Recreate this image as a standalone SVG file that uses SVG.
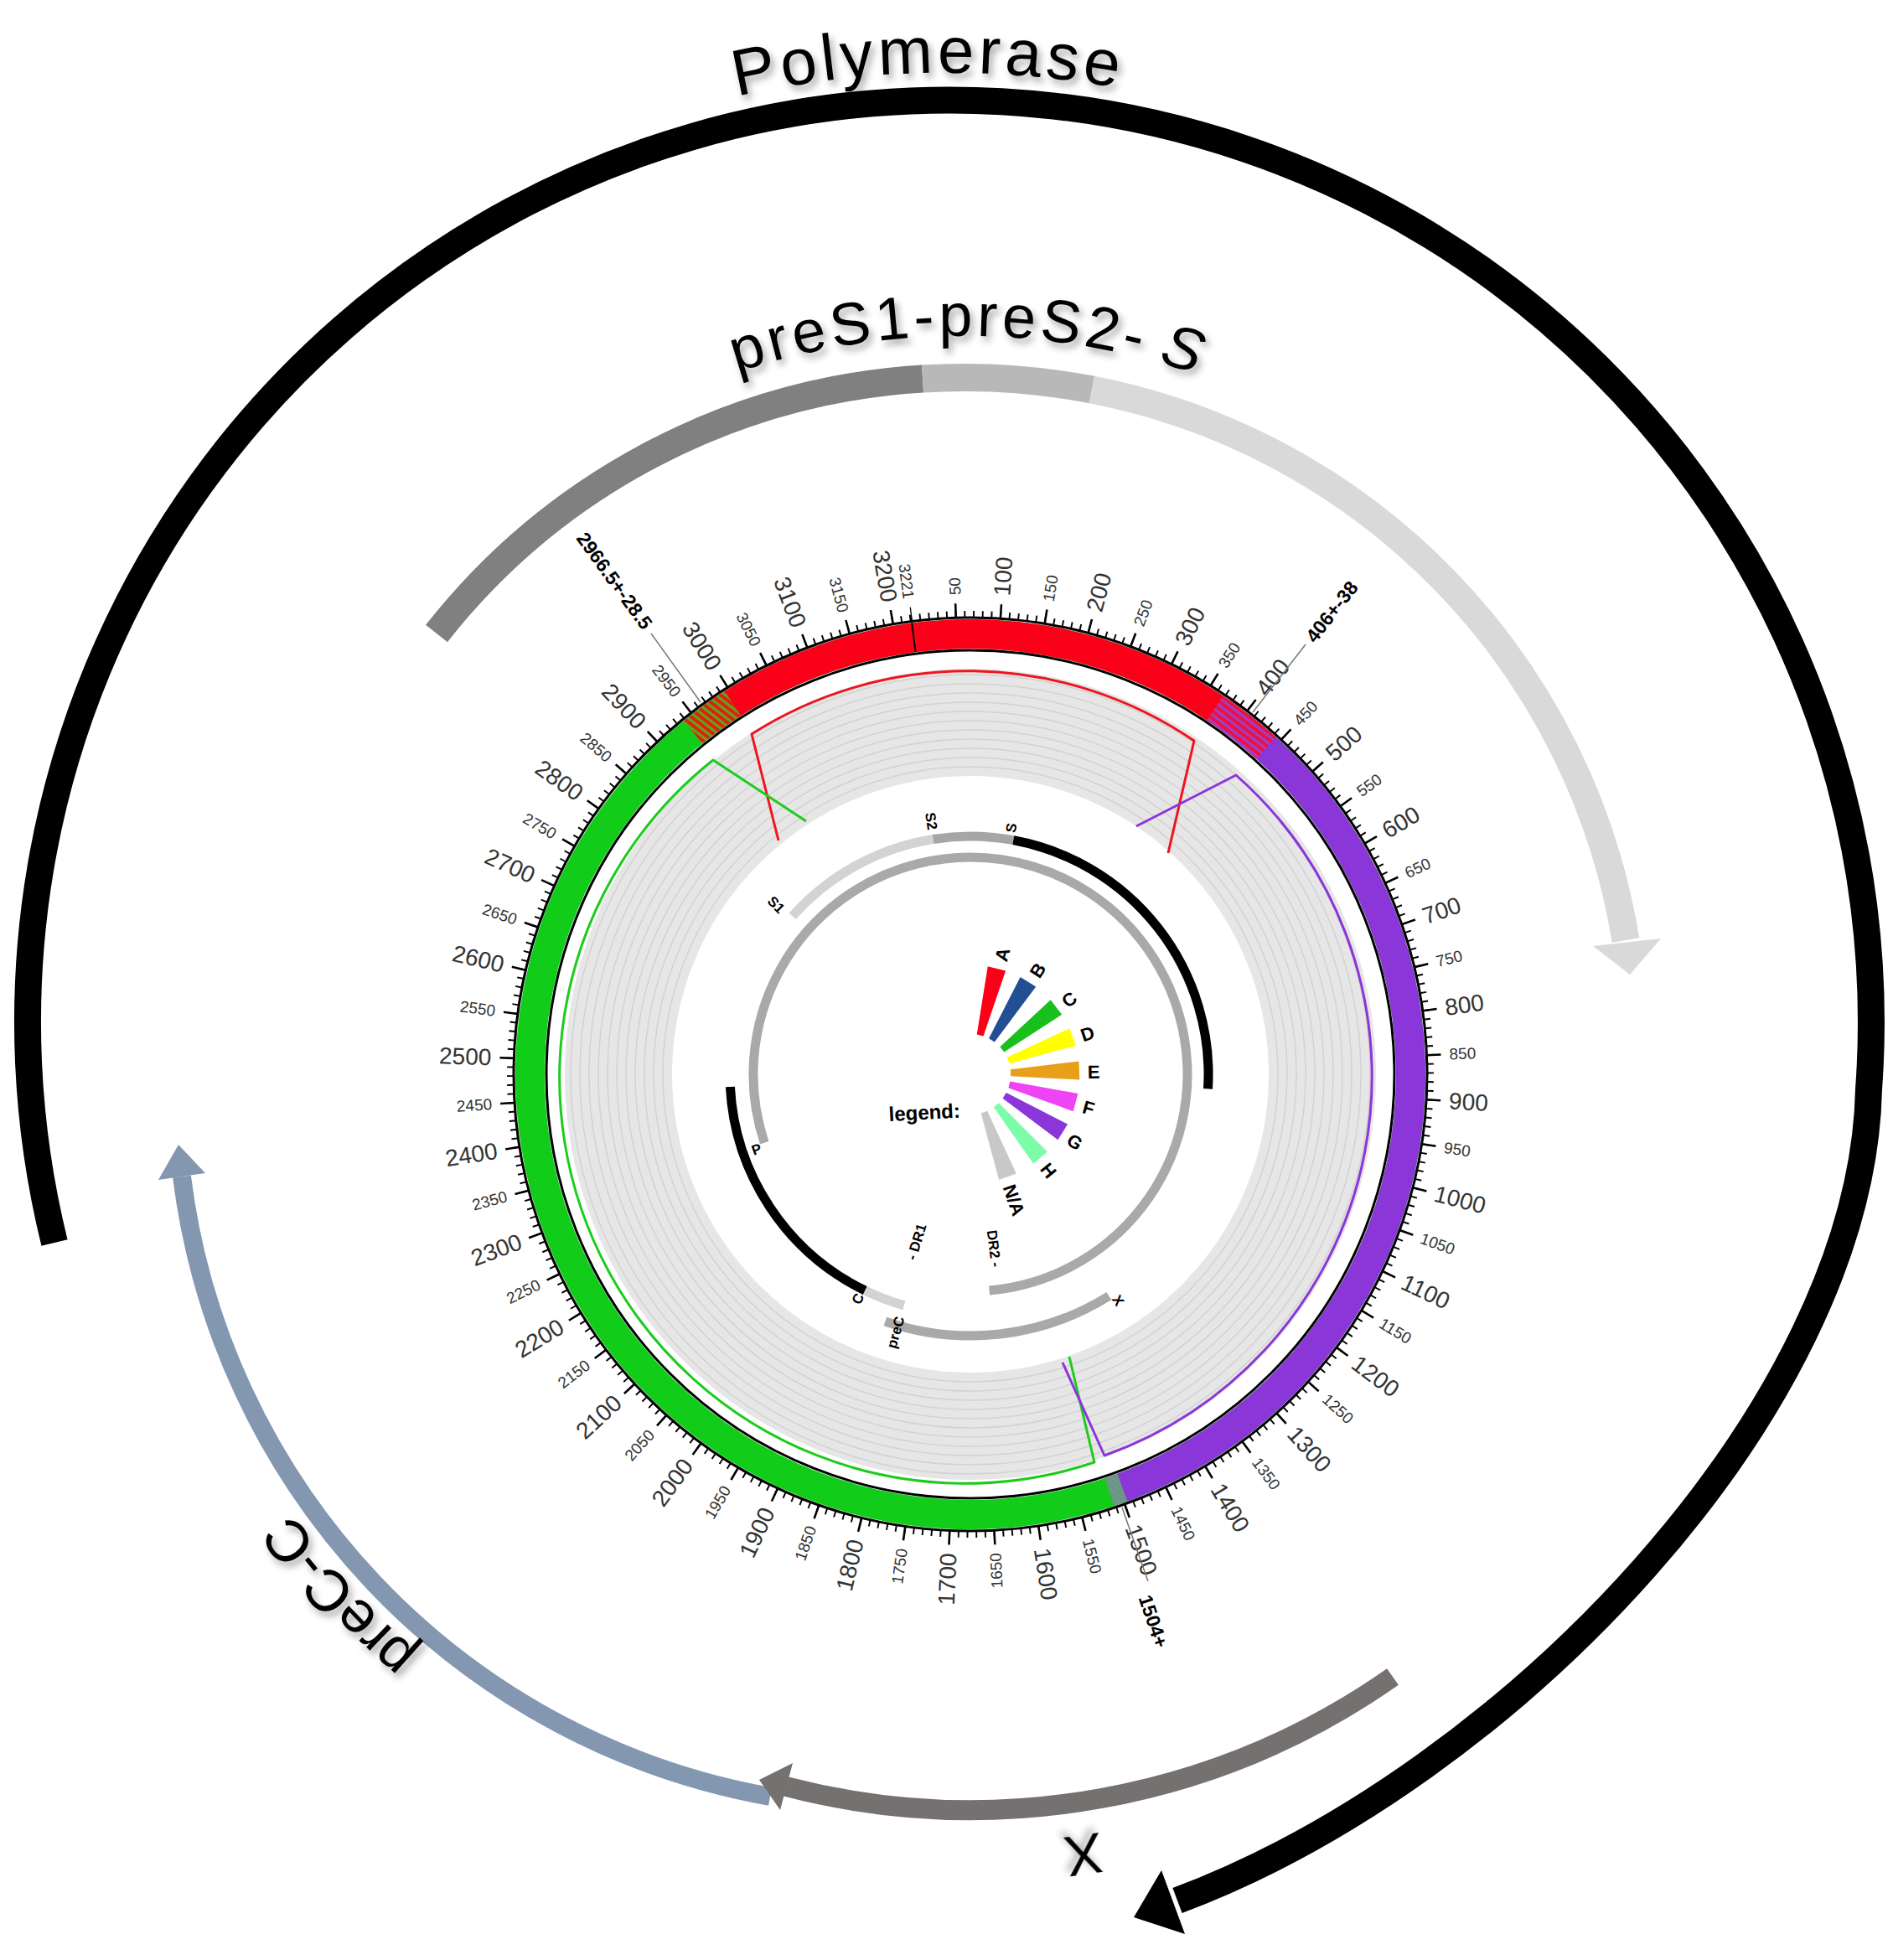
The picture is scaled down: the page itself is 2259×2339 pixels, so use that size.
<svg xmlns="http://www.w3.org/2000/svg" width="2259" height="2339" viewBox="0 0 2259 2339">
<style>
.t1{font-family:"Liberation Sans",Arial,sans-serif;font-size:28px;fill:#333}
.t2{font-family:"Liberation Sans",Arial,sans-serif;font-size:19px;fill:#333}
.big{font-family:"Liberation Sans",Arial,sans-serif;fill:#000}
.bl{font-family:"Liberation Sans",Arial,sans-serif;font-weight:bold;fill:#000}
.trk{fill:none;stroke-width:11}
.curve{fill:none;stroke-width:3;stroke-linejoin:round}
</style>
<defs>
<filter id="sh" x="-20%" y="-50%" width="140%" height="200%"><feDropShadow dx="4" dy="6" stdDeviation="4" flood-color="#000" flood-opacity="0.35"/></filter>
<pattern id="hRG" width="7" height="7" patternUnits="userSpaceOnUse" patternTransform="rotate(45)"><rect width="7" height="7" fill="#e0200f"/><rect width="3" height="7" fill="#5aa81a"/></pattern>
<pattern id="hRP" width="7" height="7" patternUnits="userSpaceOnUse" patternTransform="rotate(45)"><rect width="7" height="7" fill="#f0103a"/><rect width="3" height="7" fill="#9a40d0"/></pattern>
<pattern id="hPG" width="6" height="6" patternUnits="userSpaceOnUse" patternTransform="rotate(45)"><rect width="6" height="6" fill="#7a8a9a"/><rect width="2" height="6" fill="#50b060"/></pattern>
<path id="polyText" d="M136 664 A1148 1148 0 0 1 2128 664"/>
<path id="presText" d="M411 819 A862 862 0 0 1 1889 819"/>
<path id="precText" d="M803 2142 A885 885 0 0 1 210 1486"/>
</defs>

<g id="annotation-arcs">
<g id="polymerase">
<path d="M65 1483 A1100 1100 0 1 1 2230 1300 C2222 1680 1800 2120 1405 2268" fill="none" stroke="#000" stroke-width="32"/>
<polygon points="1353,2288 1386,2232 1414,2308" fill="#000"/>
<text class="big" font-size="78" letter-spacing="5" text-anchor="middle" filter="url(#sh)"><textPath href="#polyText" startOffset="49%">Polymerase</textPath></text>
</g>
<g id="preS">
<path d="M521 756 A800 800 0 0 1 1101 452" fill="none" stroke="#808080" stroke-width="33"/>
<path d="M1101 452 A800 800 0 0 1 1303 465" fill="none" stroke="#b8b8b8" stroke-width="33"/>
<path d="M1303 465 A800 800 0 0 1 1940 1122" fill="none" stroke="#d9d9d9" stroke-width="33"/>
<polygon points="1901,1129 1982,1120 1945,1163" fill="#d9d9d9"/>
<text class="big" font-size="72" letter-spacing="5" text-anchor="end" filter="url(#sh)"><textPath href="#presText" startOffset="62.2%">preS1-preS2-</textPath></text>
<text class="big" font-size="72" font-style="italic" filter="url(#sh)"><textPath href="#presText" startOffset="63.2%">S</textPath></text>
</g>
<g id="preC-C">
<path d="M919 2144 A860 860 0 0 1 217 1404" fill="none" stroke="#8497b0" stroke-width="22"/>
<polygon points="189,1408 245,1400 213,1366" fill="#8497b0"/>
<text class="big" font-size="70" text-anchor="middle" filter="url(#sh)"><textPath href="#precText" startOffset="50%">preC-C</textPath></text>
</g>
<g id="X">
<path d="M1662 2001 A878 878 0 0 1 938 2132" fill="none" stroke="#767171" stroke-width="24"/>
<polygon points="931,2160 946,2104 906,2124" fill="#767171"/>
<text class="big" font-size="68" text-anchor="middle" transform="translate(1290 2190) rotate(172)" filter="url(#sh)">X</text>
</g>
</g>

<g id="genome-ring">
<circle cx="1158" cy="1282" r="420" fill="none" stroke="#e6e6e6" stroke-width="128"/>
<g fill="none" stroke="#d2d2d2" stroke-width="1.5">
<circle cx="1158" cy="1282" r="367"/><circle cx="1158" cy="1282" r="378"/><circle cx="1158" cy="1282" r="389"/><circle cx="1158" cy="1282" r="400"/><circle cx="1158" cy="1282" r="411"/><circle cx="1158" cy="1282" r="422"/><circle cx="1158" cy="1282" r="433"/><circle cx="1158" cy="1282" r="444"/><circle cx="1158" cy="1282" r="455"/><circle cx="1158" cy="1282" r="466"/><circle cx="1158" cy="1282" r="477"/>
</g>
<g transform="rotate(-97.4 1158 1282)" fill="none">
<circle cx="1158" cy="1282" r="525.5" stroke="#12cc1a" stroke-width="35"/>
<circle cx="1158" cy="1282" r="525.5" stroke="#8a36d9" stroke-width="35" pathLength="3221" stroke-dasharray="1098 3221" stroke-dashoffset="-406"/>
<circle cx="1158" cy="1282" r="525.5" stroke="#fa0019" stroke-width="35" pathLength="3221" stroke-dasharray="406 3221"/>
<circle cx="1158" cy="1282" r="525.5" stroke="#fa0019" stroke-width="35" pathLength="3221" stroke-dasharray="255 3221" stroke-dashoffset="-2966"/>
<circle cx="1158" cy="1282" r="525.5" stroke="url(#hRG)" stroke-width="35" pathLength="3221" stroke-dasharray="57 3221" stroke-dashoffset="-2938"/>
<circle cx="1158" cy="1282" r="525.5" stroke="url(#hRP)" stroke-width="35" pathLength="3221" stroke-dasharray="76 3221" stroke-dashoffset="-368"/>
<circle cx="1158" cy="1282" r="525.5" stroke="url(#hPG)" stroke-width="35" pathLength="3221" stroke-dasharray="16 3221" stroke-dashoffset="-1496"/>
<circle cx="1158" cy="1282" r="549" stroke="#000" stroke-width="8" pathLength="3221" stroke-dasharray="1.8 8.2" stroke-dashoffset="0.9"/>
<circle cx="1158" cy="1282" r="553.5" stroke="#000" stroke-width="17" pathLength="3221" stroke-dasharray="2.4 47.6" stroke-dashoffset="1.2"/>
</g>
<circle cx="1158" cy="1282" r="545" fill="none" stroke="#000" stroke-width="3"/>
<circle cx="1158" cy="1282" r="506" fill="none" stroke="#000" stroke-width="3"/>
<line x1="1092.6" y1="778.2" x2="1088.1" y2="743.5" stroke="#000" stroke-width="2"/>
</g>

<g id="tick-labels">
<text class="t2" dominant-baseline="central" transform="translate(1158 1282) rotate(-91.81) translate(572 0)">50</text>
<text class="t1" dominant-baseline="central" transform="translate(1158 1282) rotate(-86.22) translate(572 0)">100</text>
<text class="t2" dominant-baseline="central" transform="translate(1158 1282) rotate(-80.64) translate(572 0)">150</text>
<text class="t1" dominant-baseline="central" transform="translate(1158 1282) rotate(-75.05) translate(572 0)">200</text>
<text class="t2" dominant-baseline="central" transform="translate(1158 1282) rotate(-69.46) translate(572 0)">250</text>
<text class="t1" dominant-baseline="central" transform="translate(1158 1282) rotate(-63.87) translate(572 0)">300</text>
<text class="t2" dominant-baseline="central" transform="translate(1158 1282) rotate(-58.28) translate(572 0)">350</text>
<text class="t1" dominant-baseline="central" transform="translate(1158 1282) rotate(-52.69) translate(572 0)">400</text>
<text class="t2" dominant-baseline="central" transform="translate(1158 1282) rotate(-47.11) translate(572 0)">450</text>
<text class="t1" dominant-baseline="central" transform="translate(1158 1282) rotate(-41.52) translate(572 0)">500</text>
<text class="t2" dominant-baseline="central" transform="translate(1158 1282) rotate(-35.93) translate(572 0)">550</text>
<text class="t1" dominant-baseline="central" transform="translate(1158 1282) rotate(-30.34) translate(572 0)">600</text>
<text class="t2" dominant-baseline="central" transform="translate(1158 1282) rotate(-24.75) translate(572 0)">650</text>
<text class="t1" dominant-baseline="central" transform="translate(1158 1282) rotate(-19.16) translate(572 0)">700</text>
<text class="t2" dominant-baseline="central" transform="translate(1158 1282) rotate(-13.58) translate(572 0)">750</text>
<text class="t1" dominant-baseline="central" transform="translate(1158 1282) rotate(-7.99) translate(572 0)">800</text>
<text class="t2" dominant-baseline="central" transform="translate(1158 1282) rotate(-2.40) translate(572 0)">850</text>
<text class="t1" dominant-baseline="central" transform="translate(1158 1282) rotate(3.19) translate(572 0)">900</text>
<text class="t2" dominant-baseline="central" transform="translate(1158 1282) rotate(8.78) translate(572 0)">950</text>
<text class="t1" dominant-baseline="central" transform="translate(1158 1282) rotate(14.37) translate(572 0)">1000</text>
<text class="t2" dominant-baseline="central" transform="translate(1158 1282) rotate(19.95) translate(572 0)">1050</text>
<text class="t1" dominant-baseline="central" transform="translate(1158 1282) rotate(25.54) translate(572 0)">1100</text>
<text class="t2" dominant-baseline="central" transform="translate(1158 1282) rotate(31.13) translate(572 0)">1150</text>
<text class="t1" dominant-baseline="central" transform="translate(1158 1282) rotate(36.72) translate(572 0)">1200</text>
<text class="t2" dominant-baseline="central" transform="translate(1158 1282) rotate(42.31) translate(572 0)">1250</text>
<text class="t1" dominant-baseline="central" transform="translate(1158 1282) rotate(47.90) translate(572 0)">1300</text>
<text class="t2" dominant-baseline="central" transform="translate(1158 1282) rotate(53.48) translate(572 0)">1350</text>
<text class="t1" dominant-baseline="central" transform="translate(1158 1282) rotate(59.07) translate(572 0)">1400</text>
<text class="t2" dominant-baseline="central" transform="translate(1158 1282) rotate(64.66) translate(572 0)">1450</text>
<text class="t1" dominant-baseline="central" transform="translate(1158 1282) rotate(70.25) translate(572 0)">1500</text>
<text class="t2" dominant-baseline="central" transform="translate(1158 1282) rotate(75.84) translate(572 0)">1550</text>
<text class="t1" dominant-baseline="central" transform="translate(1158 1282) rotate(81.43) translate(572 0)">1600</text>
<text class="t2" dominant-baseline="central" text-anchor="end" transform="translate(1158 1282) rotate(-92.99) translate(-572 0)">1650</text>
<text class="t1" dominant-baseline="central" text-anchor="end" transform="translate(1158 1282) rotate(-87.40) translate(-572 0)">1700</text>
<text class="t2" dominant-baseline="central" text-anchor="end" transform="translate(1158 1282) rotate(-81.81) translate(-572 0)">1750</text>
<text class="t1" dominant-baseline="central" text-anchor="end" transform="translate(1158 1282) rotate(-76.22) translate(-572 0)">1800</text>
<text class="t2" dominant-baseline="central" text-anchor="end" transform="translate(1158 1282) rotate(-70.63) translate(-572 0)">1850</text>
<text class="t1" dominant-baseline="central" text-anchor="end" transform="translate(1158 1282) rotate(-65.04) translate(-572 0)">1900</text>
<text class="t2" dominant-baseline="central" text-anchor="end" transform="translate(1158 1282) rotate(-59.46) translate(-572 0)">1950</text>
<text class="t1" dominant-baseline="central" text-anchor="end" transform="translate(1158 1282) rotate(-53.87) translate(-572 0)">2000</text>
<text class="t2" dominant-baseline="central" text-anchor="end" transform="translate(1158 1282) rotate(-48.28) translate(-572 0)">2050</text>
<text class="t1" dominant-baseline="central" text-anchor="end" transform="translate(1158 1282) rotate(-42.69) translate(-572 0)">2100</text>
<text class="t2" dominant-baseline="central" text-anchor="end" transform="translate(1158 1282) rotate(-37.10) translate(-572 0)">2150</text>
<text class="t1" dominant-baseline="central" text-anchor="end" transform="translate(1158 1282) rotate(-31.51) translate(-572 0)">2200</text>
<text class="t2" dominant-baseline="central" text-anchor="end" transform="translate(1158 1282) rotate(-25.93) translate(-572 0)">2250</text>
<text class="t1" dominant-baseline="central" text-anchor="end" transform="translate(1158 1282) rotate(-20.34) translate(-572 0)">2300</text>
<text class="t2" dominant-baseline="central" text-anchor="end" transform="translate(1158 1282) rotate(-14.75) translate(-572 0)">2350</text>
<text class="t1" dominant-baseline="central" text-anchor="end" transform="translate(1158 1282) rotate(-9.16) translate(-572 0)">2400</text>
<text class="t2" dominant-baseline="central" text-anchor="end" transform="translate(1158 1282) rotate(-3.57) translate(-572 0)">2450</text>
<text class="t1" dominant-baseline="central" text-anchor="end" transform="translate(1158 1282) rotate(2.02) translate(-572 0)">2500</text>
<text class="t2" dominant-baseline="central" text-anchor="end" transform="translate(1158 1282) rotate(7.60) translate(-572 0)">2550</text>
<text class="t1" dominant-baseline="central" text-anchor="end" transform="translate(1158 1282) rotate(13.19) translate(-572 0)">2600</text>
<text class="t2" dominant-baseline="central" text-anchor="end" transform="translate(1158 1282) rotate(18.78) translate(-572 0)">2650</text>
<text class="t1" dominant-baseline="central" text-anchor="end" transform="translate(1158 1282) rotate(24.37) translate(-572 0)">2700</text>
<text class="t2" dominant-baseline="central" text-anchor="end" transform="translate(1158 1282) rotate(29.96) translate(-572 0)">2750</text>
<text class="t1" dominant-baseline="central" text-anchor="end" transform="translate(1158 1282) rotate(35.55) translate(-572 0)">2800</text>
<text class="t2" dominant-baseline="central" text-anchor="end" transform="translate(1158 1282) rotate(41.13) translate(-572 0)">2850</text>
<text class="t1" dominant-baseline="central" text-anchor="end" transform="translate(1158 1282) rotate(46.72) translate(-572 0)">2900</text>
<text class="t2" dominant-baseline="central" text-anchor="end" transform="translate(1158 1282) rotate(52.31) translate(-572 0)">2950</text>
<text class="t1" dominant-baseline="central" text-anchor="end" transform="translate(1158 1282) rotate(57.90) translate(-572 0)">3000</text>
<text class="t2" dominant-baseline="central" text-anchor="end" transform="translate(1158 1282) rotate(63.49) translate(-572 0)">3050</text>
<text class="t1" dominant-baseline="central" text-anchor="end" transform="translate(1158 1282) rotate(69.08) translate(-572 0)">3100</text>
<text class="t2" dominant-baseline="central" text-anchor="end" transform="translate(1158 1282) rotate(74.66) translate(-572 0)">3150</text>
<text class="t1" dominant-baseline="central" text-anchor="end" transform="translate(1158 1282) rotate(80.25) translate(-572 0)">3200</text>
<text class="t2" dominant-baseline="central" text-anchor="end" transform="translate(1158 1282) rotate(82.60) translate(-572 0)">3221</text>
</g>

<g id="breakpoints">
<g stroke="#777" stroke-width="1.5">
<line x1="836" y1="838" x2="777" y2="756"/>
<line x1="1495" y1="850" x2="1558" y2="769"/>
<line x1="1339" y1="1799" x2="1370" y2="1887"/>
</g>
<text class="bl" font-size="23" dominant-baseline="central" text-anchor="end" transform="translate(1158 1282) rotate(54.2) translate(-658 0)">2966.5+-28.5</text>
<text class="bl" font-size="23" dominant-baseline="central" transform="translate(1158 1282) rotate(-52) translate(658 0)">406+-38</text>
<text class="bl" font-size="23" dominant-baseline="central" transform="translate(1158 1282) rotate(71.5) translate(656 0)">1504+</text>
</g>

<g id="recombination-curves">
<path class="curve" stroke="#f0141e" d="M929 1003 L897 876 A480 480 0 0 1 1425 884 L1394 1018"/>
<path class="curve" stroke="#1ccc1c" d="M962 980 L851 907 A484 484 0 0 0 1306 1745 L1276 1619"/>
<path class="curve" stroke="#8a36d9" d="M1356 986 L1475 925 A480 480 0 0 1 1318 1737 L1268 1626"/>
</g>

<g id="gene-tracks">
<path class="trk" stroke="#d3d3d3" d="M945.6 1093.4 A284 284 0 0 1 1113.6 1001.5"/>
<path class="trk" stroke="#a6a6a6" d="M1113.6 1001.5 A284 284 0 0 1 1209.3 1002.7"/>
<path class="trk" stroke="#000" d="M1209.3 1002.7 A284 284 0 0 1 1441.5 1299.3"/>
<path class="trk" stroke="#a9a9a9" d="M912.2 1363.7 A259 259 0 1 1 1180.6 1540"/>
<path class="trk" stroke="#d3d3d3" d="M1078.9 1557.9 A287 287 0 0 1 1032.2 1540"/>
<path class="trk" stroke="#000" d="M1032.2 1540 A287 287 0 0 1 871.4 1297"/>
<path class="trk" stroke="#a9a9a9" d="M1323.3 1546.6 A312 312 0 0 1 1056.4 1577"/>
<g class="bl" font-size="17">
<text text-anchor="middle" dominant-baseline="central" transform="translate(926 1080) rotate(45)">S1</text>
<text text-anchor="middle" dominant-baseline="central" transform="translate(1111 980) rotate(81)">S2</text>
<text text-anchor="middle" dominant-baseline="central" transform="translate(1207 988) rotate(-80)">S</text>
<text text-anchor="middle" dominant-baseline="central" transform="translate(903 1372) rotate(-20)">P</text>
<text text-anchor="middle" dominant-baseline="central" transform="translate(1024 1550) rotate(-64)">C</text>
<text text-anchor="middle" dominant-baseline="central" transform="translate(1069 1590) rotate(-74)">preC</text>
<text text-anchor="middle" dominant-baseline="central" transform="translate(1094 1482) rotate(-73)">- DR1</text>
<text text-anchor="middle" dominant-baseline="central" transform="translate(1186 1490) rotate(83)">DR2 -</text>
<text text-anchor="middle" dominant-baseline="central" transform="translate(1334 1552) rotate(57)">X</text>
</g>
</g>

<g id="legend">
<text class="bl" font-size="24" transform="translate(1061 1338) rotate(-3)">legend:</text>
<g transform="translate(1158 1282)">
<polygon points="-4,-48 4,-48 11,-130 -11,-130" fill="#fa0019" transform="rotate(14)"/>
<polygon points="-4,-48 4,-48 11,-130 -11,-130" fill="#224f94" transform="rotate(32)"/>
<polygon points="-4,-48 4,-48 11,-130 -11,-130" fill="#19c01c" transform="rotate(52)"/>
<polygon points="-4,-48 4,-48 11,-130 -11,-130" fill="#ffff00" transform="rotate(70)"/>
<polygon points="-4,-48 4,-48 11,-130 -11,-130" fill="#e8a01a" transform="rotate(88)"/>
<polygon points="-4,-48 4,-48 11,-130 -11,-130" fill="#ee44f4" transform="rotate(105)"/>
<polygon points="-4,-48 4,-48 11,-130 -11,-130" fill="#8a36d9" transform="rotate(122)"/>
<polygon points="-4,-48 4,-48 11,-130 -11,-130" fill="#7dfcaa" transform="rotate(140)"/>
<polygon points="-4,-48 4,-48 11,-130 -11,-130" fill="#c8c8c8" transform="rotate(160)"/>
<g class="bl" font-size="22">
<text dominant-baseline="central" transform="rotate(-75) translate(140 0)">A</text>
<text dominant-baseline="central" transform="rotate(-57) translate(140 0)">B</text>
<text dominant-baseline="central" transform="rotate(-37) translate(140 0)">C</text>
<text dominant-baseline="central" transform="rotate(-19) translate(140 0)">D</text>
<text dominant-baseline="central" transform="rotate(-1) translate(140 0)">E</text>
<text dominant-baseline="central" transform="rotate(16) translate(140 0)">F</text>
<text dominant-baseline="central" transform="rotate(33) translate(140 0)">G</text>
<text dominant-baseline="central" transform="rotate(51) translate(140 0)">H</text>
<text dominant-baseline="central" transform="rotate(71) translate(140 0)">N/A</text>
</g>
</g>
</g>
</svg>
